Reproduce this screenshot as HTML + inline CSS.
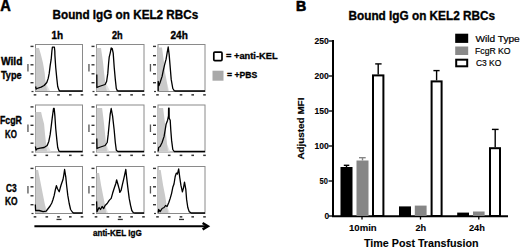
<!DOCTYPE html>
<html><head><meta charset="utf-8">
<style>
html,body{margin:0;padding:0;background:#fff;}
body{width:520px;height:247px;overflow:hidden;position:relative;}
svg{position:absolute;left:0;top:0;}
text{font-family:"Liberation Sans",sans-serif;}
.s{stroke:#000;stroke-width:0.35px;}
.b{font-weight:bold;}
</style></head><body>
<svg width="520" height="247" viewBox="0 0 520 247">
<!-- Panel labels -->
<text x="0.25" y="10.8" font-size="16.5" font-weight="bold" stroke="#000" stroke-width="0.5" textLength="10.54" lengthAdjust="spacingAndGlyphs">A</text>
<text x="296.0" y="10.8" font-size="15.0" font-weight="bold" stroke="#000" stroke-width="0.7" textLength="10.2" lengthAdjust="spacingAndGlyphs">B</text>
<text x="52.54" y="19.1" font-size="12.4" font-weight="bold" stroke="#000" stroke-width="0.35" textLength="145.72" lengthAdjust="spacingAndGlyphs">Bound IgG on KEL2 RBCs</text>
<text x="348.52" y="20.2" font-size="12.4" font-weight="bold" stroke="#000" stroke-width="0.35" textLength="146.54" lengthAdjust="spacingAndGlyphs">Bound IgG on KEL2 RBCs</text>
<text x="51.4" y="38.8" font-size="10.0" font-weight="bold" stroke="#000" stroke-width="0.35" textLength="11.59" lengthAdjust="spacingAndGlyphs">1h</text>
<text x="111.98" y="38.8" font-size="10.0" font-weight="bold" stroke="#000" stroke-width="0.35" textLength="10.7" lengthAdjust="spacingAndGlyphs">2h</text>
<text x="170.49" y="38.8" font-size="10.0" font-weight="bold" stroke="#000" stroke-width="0.35" textLength="17.27" lengthAdjust="spacingAndGlyphs">24h</text>
<text x="1.0" y="65.4" font-size="10.0" font-weight="bold" stroke="#000" stroke-width="0.35" textLength="21.42" lengthAdjust="spacingAndGlyphs">Wild</text>
<text x="0.95" y="79.0" font-size="10.0" font-weight="bold" stroke="#000" stroke-width="0.35" textLength="20.67" lengthAdjust="spacingAndGlyphs">Type</text>
<text x="0.0" y="124.2" font-size="10.0" font-weight="bold" stroke="#000" stroke-width="0.35" textLength="21.86" lengthAdjust="spacingAndGlyphs">FcgR</text>
<text x="5.0" y="138.0" font-size="10.0" font-weight="bold" stroke="#000" stroke-width="0.35" textLength="11.83" lengthAdjust="spacingAndGlyphs">KO</text>
<text x="6.0" y="191.5" font-size="10.0" font-weight="bold" stroke="#000" stroke-width="0.35" textLength="10.67" lengthAdjust="spacingAndGlyphs">C3</text>
<text x="5.0" y="205.0" font-size="10.0" font-weight="bold" stroke="#000" stroke-width="0.35" textLength="12.63" lengthAdjust="spacingAndGlyphs">KO</text>
<text x="93.01" y="235.6" font-size="8.3" font-weight="bold" stroke="#000" stroke-width="0.3" textLength="48.71" lengthAdjust="spacingAndGlyphs">anti-KEL IgG</text>
<text x="225.98" y="58.9" font-size="9.0" font-weight="bold" stroke="#000" stroke-width="0.3" textLength="51.63" lengthAdjust="spacingAndGlyphs">= +anti-KEL</text>
<text x="227.01" y="77.6" font-size="9.0" font-weight="bold" stroke="#000" stroke-width="0.3" textLength="30.13" lengthAdjust="spacingAndGlyphs">= +PBS</text>
<text x="349.0" y="230.8" font-size="9.3" font-weight="bold" stroke="#000" stroke-width="0.1" textLength="27.68" lengthAdjust="spacingAndGlyphs">10min</text>
<text x="415.46" y="230.8" font-size="9.3" font-weight="bold" stroke="#000" stroke-width="0.1" textLength="10.69" lengthAdjust="spacingAndGlyphs">2h</text>
<text x="468.93" y="230.8" font-size="9.3" font-weight="bold" stroke="#000" stroke-width="0.1" textLength="15.97" lengthAdjust="spacingAndGlyphs">24h</text>
<text x="364.0" y="246.5" font-size="11.0" font-weight="bold" stroke="#000" stroke-width="0.1" textLength="114.57" lengthAdjust="spacingAndGlyphs">Time Post Transfusion</text>
<text x="475.46" y="41.5" font-size="9.4" font-weight="normal" stroke="#000" stroke-width="0.2" textLength="44.29" lengthAdjust="spacingAndGlyphs">Wild Type</text>
<text x="475.05" y="53.5" font-size="9.1" font-weight="normal" stroke="#000" stroke-width="0.2" textLength="35.54" lengthAdjust="spacingAndGlyphs">FcgR KO</text>
<text x="476.0" y="66.2" font-size="9.1" font-weight="normal" stroke="#000" stroke-width="0.2" textLength="25.29" lengthAdjust="spacingAndGlyphs">C3 KO</text>
<text x="314.48" y="43.8" font-size="8.4" font-weight="bold" stroke="#000" stroke-width="0.1" textLength="14.23" lengthAdjust="spacingAndGlyphs">250</text>
<text x="314.48" y="78.9" font-size="8.4" font-weight="bold" stroke="#000" stroke-width="0.1" textLength="14.23" lengthAdjust="spacingAndGlyphs">200</text>
<text x="314.48" y="114.0" font-size="8.4" font-weight="bold" stroke="#000" stroke-width="0.1" textLength="14.23" lengthAdjust="spacingAndGlyphs">150</text>
<text x="314.48" y="149.0" font-size="8.4" font-weight="bold" stroke="#000" stroke-width="0.1" textLength="14.23" lengthAdjust="spacingAndGlyphs">100</text>
<text x="319.49" y="184.1" font-size="8.4" font-weight="bold" stroke="#000" stroke-width="0.1" textLength="8.35" lengthAdjust="spacingAndGlyphs">50</text>
<text x="324.5" y="219.3" font-size="8.4" font-weight="bold" stroke="#000" stroke-width="0.1" textLength="4.67" lengthAdjust="spacingAndGlyphs">0</text>

<!-- Histogram boxes -->
<g id="boxes" fill="none" stroke="#8a8a8a" stroke-width="1">
<rect x="35.5" y="44.5" width="47.0" height="47.0"/>
<rect x="35.5" y="105.0" width="47.0" height="47.0"/>
<rect x="35.5" y="166.5" width="47.0" height="47.0"/>
<rect x="96.5" y="44.5" width="47.5" height="47.0"/>
<rect x="96.5" y="105.0" width="47.5" height="47.0"/>
<rect x="96.5" y="166.5" width="47.5" height="47.0"/>
<rect x="158.0" y="44.5" width="47.0" height="47.0"/>
<rect x="158.0" y="105.0" width="47.0" height="47.0"/>
<rect x="158.0" y="166.5" width="47.0" height="47.0"/>
</g>

<!-- grey PBS fills -->
<g fill="#e4e4e4" stroke="none">
<path d="M35.5,91 L45.5,81.5 L47.5,86 L50,91 Z"/>
<path d="M96.5,91 L105.1,81.5 L107.5,86 L110,91 Z"/>
<path d="M158,91 L167.1,83.5 L169.2,91 Z"/>
<path d="M35.5,151.5 L46,143.5 L48.5,147 L51,151.5 Z"/>
<path d="M96.5,151.5 L106.1,143.5 L109.2,151.5 Z"/>
<path d="M158,151.5 L167.1,144.5 L170.2,151.5 Z"/>
<path d="M35.5,213 L45.1,205.5 L48,213 Z"/>
<path d="M96.5,213 L105.1,205.5 L108,213 Z"/>
<path d="M158,213 L166.7,205.5 L170,213 Z"/>
</g>
<g fill="#cacaca" stroke="none">
<path d="M35.5,91 L35.5,48 L39,48 L41,55 L43,63 L44.7,73 L45.5,81.5 L46.5,88 L47.5,91 Z"/>
<path d="M96.5,91 L96.5,48 L101,48 L102,55 L103.1,63 L104.1,73 L105.1,81.5 L106,88 L107,91 Z"/>
<path d="M158,91 L158,47.5 L162,47.5 L163,55 L164.1,63 L165.1,73 L166.1,78 L167.1,83.5 L168,91 Z"/>
<path d="M35.5,151.5 L35.5,112 L41.1,112 L42.5,118 L44.1,124 L45,134 L46,143.5 L47,151.5 Z"/>
<path d="M96.5,151.5 L96.5,108 L102.1,108 L103,115 L104.1,124.2 L105.1,134.4 L106.1,143.5 L107,151.5 Z"/>
<path d="M158,151.5 L158,108 L163.1,108 L164,115 L165.1,124.2 L166.1,134.4 L167.1,144.5 L168,151.5 Z"/>
<path d="M35.5,213 L35.5,170 L38.1,170 L41.1,185.2 L43.1,195.4 L45.1,205.5 L46.2,213 Z"/>
<path d="M96.5,213 L96.5,173 L99.1,173 L101.1,185.2 L103.1,195.4 L105.1,205.5 L106.1,213 Z"/>
<path d="M158,213 L158,170 L160.7,170 L163.1,185.2 L165.1,195.4 L166.7,205.5 L168.2,213 Z"/>
</g>

<!-- black anti-KEL histograms -->
<g fill="none" stroke="#000" stroke-width="1.3" stroke-linejoin="round">
<path d="M35.6,86.5 L36.2,89 L37,88.5 L41.1,87.1 L44.1,85.5 L46.8,82.5 L48.2,78.4 L49.2,73.4 L50.2,65.3 L51.2,59.2 L51.9,51 L52.4,47.2 L54.4,47.2 L54.8,51 L54.9,55.1 L55.7,67.3 L56.9,79.4 L57.7,86.5 L58.9,90 L59.8,91 L82.5,91"/>
<path d="M96.8,74.4 L96.9,87.5 L99.1,86.5 L102.1,85.5 L105.1,84.5 L106.6,81.5 L107.8,73.4 L108.6,63.2 L109.2,57.2 L110.2,53.1 L111.2,48 L112.2,48.5 L113.2,53.1 L114.2,67.3 L115.3,79.4 L116.3,88.5 L117.3,90.6 L118,91 L144,91"/>
<path d="M158.2,91 L158.2,81.5 L159,85.5 L160.1,82.5 L162.1,76.4 L163.1,71.3 L164.7,64.3 L166.1,59.2 L167.1,53.1 L168.2,47 L169.2,55.1 L170.2,67.3 L171.2,79.4 L172.8,88.5 L174.2,90.6 L175,91 L205,91"/>
<path d="M35.4,146.5 L36,150 L37,148.9 L40.1,148.1 L44.1,147.5 L47.2,145.5 L48.8,141.4 L50.2,134.4 L51.2,126.3 L52.2,118.2 L53.5,108.5 L54.2,108.5 L54.9,116.1 L55.7,128.3 L56.9,140.4 L57.7,147.5 L58.9,151 L59.8,151.5 L82.5,151.5"/>
<path d="M96.8,138.4 L97,148.5 L99.1,147.5 L102.1,146.5 L105.1,145.5 L107.2,142.5 L108.2,134.4 L109.2,124.2 L110.2,114.1 L111.2,108.5 L112.6,116.1 L114.2,130.3 L115.3,142.5 L116.3,150.2 L117.9,151.5 L144,151.5"/>
<path d="M158.2,151.5 L158.6,147.5 L160.1,146.5 L162.1,142.5 L164.1,136.4 L165.1,130.3 L166.1,124.2 L167.6,120.2 L168.5,116 L168.6,108.2 L169.1,108.2 L169.2,118.2 L170.2,120.2 L170.8,130.3 L171.6,140.4 L172.8,149.5 L174.2,151.5 L205,151.5"/>
<path d="M35.3,204.5 L35.6,210.5 L39.1,210.5 L43.1,211.6 L46.2,211.2 L48.2,208.5 L50.1,206 L51.8,203 L53,199.5 L54.2,195.4 L55.3,190 L56.4,185.7 L57.5,188.8 L59.2,191.8 L60.4,187.3 L61.5,183.7 L63,179.5 L63.8,175.1 L64.6,169.5 L65.8,177.1 L66.6,185.2 L67.8,195.4 L69.2,203.5 L70.6,209.5 L72.3,212 L73.5,213 L82.5,213"/>
<path d="M96.6,201.4 L97,211.6 L99.1,207.5 L100.5,209.5 L102.1,206.5 L103.7,208.5 L105.1,205.5 L107.2,203.5 L109.2,200.4 L111.2,198.4 L112.6,193.3 L114.2,188.3 L115.9,183.2 L116.6,179.8 L117.9,184.2 L119.3,189.3 L119.8,192.3 L121.1,190.3 L122.5,184.2 L123.7,179.2 L124.6,175.1 L125.8,169.5 L126.6,177.1 L127.8,187.3 L129.2,198.4 L130.6,205.5 L131.8,210.5 L133.3,212.6 L134.5,213 L144,213"/>
<path d="M158.2,212.6 L158.6,209.5 L160.1,211.6 L162.1,208.5 L164.1,207.5 L165.5,205.5 L167.1,206.5 L168.8,202.5 L170.2,198.4 L171.6,193.3 L172.8,187.3 L174,184 L175.2,176.5 L176.3,173.1 L177.4,174.1 L178.7,169 L179.7,177.1 L180.9,185.2 L182.4,191.8 L183.5,187.8 L184.5,182.2 L185.8,189.3 L186.6,199.4 L187.8,207.5 L189.2,211.6 L191.2,213 L205,213"/>
</g>

<!-- ticks -->
<g fill="#333">
<rect x="30.5" y="45.7" width="3" height="1.4"/>
<rect x="30.5" y="55.0" width="3" height="1.4"/>
<rect x="30.5" y="64.1" width="3" height="1.4"/>
<rect x="30.5" y="73.1" width="3" height="1.4"/>
<rect x="30.5" y="82.0" width="3" height="1.4"/>
<rect x="31.5" y="90.9" width="2" height="1.2"/>
<rect x="27.3" y="64.0" width="1.3" height="7.5" fill="#555"/>
<rect x="33.7" y="94.1" width="2.6" height="1.5"/>
<rect x="45.5" y="94.1" width="2.6" height="1.5"/>
<rect x="57.2" y="94.1" width="2.6" height="1.5"/>
<rect x="69.0" y="94.1" width="2.6" height="1.5"/>
<rect x="80.7" y="94.1" width="2.6" height="1.5"/>
<rect x="30.5" y="106.2" width="3" height="1.4"/>
<rect x="30.5" y="115.5" width="3" height="1.4"/>
<rect x="30.5" y="124.6" width="3" height="1.4"/>
<rect x="30.5" y="133.6" width="3" height="1.4"/>
<rect x="30.5" y="142.5" width="3" height="1.4"/>
<rect x="31.5" y="151.4" width="2" height="1.2"/>
<rect x="27.3" y="124.5" width="1.3" height="7.5" fill="#555"/>
<rect x="33.7" y="154.6" width="2.6" height="1.5"/>
<rect x="45.5" y="154.6" width="2.6" height="1.5"/>
<rect x="57.2" y="154.6" width="2.6" height="1.5"/>
<rect x="69.0" y="154.6" width="2.6" height="1.5"/>
<rect x="80.7" y="154.6" width="2.6" height="1.5"/>
<rect x="30.5" y="167.7" width="3" height="1.4"/>
<rect x="30.5" y="177.0" width="3" height="1.4"/>
<rect x="30.5" y="186.1" width="3" height="1.4"/>
<rect x="30.5" y="195.1" width="3" height="1.4"/>
<rect x="30.5" y="204.0" width="3" height="1.4"/>
<rect x="31.5" y="212.9" width="2" height="1.2"/>
<rect x="27.3" y="186.0" width="1.3" height="7.5" fill="#555"/>
<rect x="33.7" y="216.1" width="2.6" height="1.5"/>
<rect x="45.5" y="216.1" width="2.6" height="1.5"/>
<rect x="57.2" y="216.1" width="2.6" height="1.5"/>
<rect x="69.0" y="216.1" width="2.6" height="1.5"/>
<rect x="80.7" y="216.1" width="2.6" height="1.5"/>
<rect x="56.5" y="218.8" width="5" height="1.3"/>
<rect x="91.5" y="45.7" width="3" height="1.4"/>
<rect x="91.5" y="55.0" width="3" height="1.4"/>
<rect x="91.5" y="64.1" width="3" height="1.4"/>
<rect x="91.5" y="73.1" width="3" height="1.4"/>
<rect x="91.5" y="82.0" width="3" height="1.4"/>
<rect x="92.5" y="90.9" width="2" height="1.2"/>
<rect x="88.3" y="64.0" width="1.3" height="7.5" fill="#555"/>
<rect x="94.7" y="94.1" width="2.6" height="1.5"/>
<rect x="106.6" y="94.1" width="2.6" height="1.5"/>
<rect x="118.5" y="94.1" width="2.6" height="1.5"/>
<rect x="130.3" y="94.1" width="2.6" height="1.5"/>
<rect x="142.2" y="94.1" width="2.6" height="1.5"/>
<rect x="91.5" y="106.2" width="3" height="1.4"/>
<rect x="91.5" y="115.5" width="3" height="1.4"/>
<rect x="91.5" y="124.6" width="3" height="1.4"/>
<rect x="91.5" y="133.6" width="3" height="1.4"/>
<rect x="91.5" y="142.5" width="3" height="1.4"/>
<rect x="92.5" y="151.4" width="2" height="1.2"/>
<rect x="88.3" y="124.5" width="1.3" height="7.5" fill="#555"/>
<rect x="94.7" y="154.6" width="2.6" height="1.5"/>
<rect x="106.6" y="154.6" width="2.6" height="1.5"/>
<rect x="118.5" y="154.6" width="2.6" height="1.5"/>
<rect x="130.3" y="154.6" width="2.6" height="1.5"/>
<rect x="142.2" y="154.6" width="2.6" height="1.5"/>
<rect x="91.5" y="167.7" width="3" height="1.4"/>
<rect x="91.5" y="177.0" width="3" height="1.4"/>
<rect x="91.5" y="186.1" width="3" height="1.4"/>
<rect x="91.5" y="195.1" width="3" height="1.4"/>
<rect x="91.5" y="204.0" width="3" height="1.4"/>
<rect x="92.5" y="212.9" width="2" height="1.2"/>
<rect x="88.3" y="186.0" width="1.3" height="7.5" fill="#555"/>
<rect x="94.7" y="216.1" width="2.6" height="1.5"/>
<rect x="106.6" y="216.1" width="2.6" height="1.5"/>
<rect x="118.5" y="216.1" width="2.6" height="1.5"/>
<rect x="130.3" y="216.1" width="2.6" height="1.5"/>
<rect x="142.2" y="216.1" width="2.6" height="1.5"/>
<rect x="117.8" y="218.8" width="5" height="1.3"/>
<rect x="153.0" y="45.7" width="3" height="1.4"/>
<rect x="153.0" y="55.0" width="3" height="1.4"/>
<rect x="153.0" y="64.1" width="3" height="1.4"/>
<rect x="153.0" y="73.1" width="3" height="1.4"/>
<rect x="153.0" y="82.0" width="3" height="1.4"/>
<rect x="154.0" y="90.9" width="2" height="1.2"/>
<rect x="149.8" y="64.0" width="1.3" height="7.5" fill="#555"/>
<rect x="156.2" y="94.1" width="2.6" height="1.5"/>
<rect x="167.9" y="94.1" width="2.6" height="1.5"/>
<rect x="179.7" y="94.1" width="2.6" height="1.5"/>
<rect x="191.4" y="94.1" width="2.6" height="1.5"/>
<rect x="203.2" y="94.1" width="2.6" height="1.5"/>
<rect x="153.0" y="106.2" width="3" height="1.4"/>
<rect x="153.0" y="115.5" width="3" height="1.4"/>
<rect x="153.0" y="124.6" width="3" height="1.4"/>
<rect x="153.0" y="133.6" width="3" height="1.4"/>
<rect x="153.0" y="142.5" width="3" height="1.4"/>
<rect x="154.0" y="151.4" width="2" height="1.2"/>
<rect x="149.8" y="124.5" width="1.3" height="7.5" fill="#555"/>
<rect x="156.2" y="154.6" width="2.6" height="1.5"/>
<rect x="167.9" y="154.6" width="2.6" height="1.5"/>
<rect x="179.7" y="154.6" width="2.6" height="1.5"/>
<rect x="191.4" y="154.6" width="2.6" height="1.5"/>
<rect x="203.2" y="154.6" width="2.6" height="1.5"/>
<rect x="153.0" y="167.7" width="3" height="1.4"/>
<rect x="153.0" y="177.0" width="3" height="1.4"/>
<rect x="153.0" y="186.1" width="3" height="1.4"/>
<rect x="153.0" y="195.1" width="3" height="1.4"/>
<rect x="153.0" y="204.0" width="3" height="1.4"/>
<rect x="154.0" y="212.9" width="2" height="1.2"/>
<rect x="149.8" y="186.0" width="1.3" height="7.5" fill="#555"/>
<rect x="156.2" y="216.1" width="2.6" height="1.5"/>
<rect x="167.9" y="216.1" width="2.6" height="1.5"/>
<rect x="179.7" y="216.1" width="2.6" height="1.5"/>
<rect x="191.4" y="216.1" width="2.6" height="1.5"/>
<rect x="203.2" y="216.1" width="2.6" height="1.5"/>
<rect x="179.0" y="218.8" width="5" height="1.3"/>
</g>
<!-- arrow -->
<line x1="34.4" y1="226.2" x2="207.5" y2="226.2" stroke="#000" stroke-width="2"/>
<polyline points="202.6,223 207.9,226.2 202.6,229.4" fill="none" stroke="#000" stroke-width="2.4" stroke-linejoin="miter"/>

<!-- legend A -->
<rect x="213.8" y="52.2" width="8.2" height="8.4" rx="1" fill="#fff" stroke="#000" stroke-width="1.7"/>
<rect x="212.5" y="70.7" width="11" height="10" fill="#a9a9a9"/>

<!-- Panel B chart -->
<g stroke="#000" stroke-width="2" fill="none">
<line x1="333" y1="40" x2="333" y2="217"/>
<line x1="332" y1="216.3" x2="508" y2="216.3"/>
</g>
<g stroke="#000" stroke-width="1.3">
<line x1="328.5" y1="41" x2="333" y2="41"/>
<line x1="328.5" y1="76" x2="333" y2="76"/>
<line x1="328.5" y1="111" x2="333" y2="111"/>
<line x1="328.5" y1="146" x2="333" y2="146"/>
<line x1="328.5" y1="181" x2="333" y2="181"/>
<line x1="328.5" y1="216" x2="333" y2="216"/>
<line x1="362" y1="216" x2="362" y2="219.5"/>
<line x1="420.5" y1="216" x2="420.5" y2="219.5"/>
<line x1="478.8" y1="216" x2="478.8" y2="219.5"/>
</g>

<text font-weight="bold" font-size="8.2" stroke="#000" stroke-width="0.15" transform="translate(304.2,159.6) rotate(-90)" textLength="62" lengthAdjust="spacingAndGlyphs">Adjusted MFI</text>


<!-- bars -->
<g>
<rect x="340.5" y="167" width="12" height="49" fill="#000"/>
<rect x="356.5" y="160.5" width="12" height="55.5" fill="#868686"/>
<rect x="373" y="75.4" width="10.4" height="140.6" fill="#fff" stroke="#000" stroke-width="2"/>
<rect x="399" y="206.4" width="12" height="9.6" fill="#000"/>
<rect x="414.8" y="205.6" width="11.8" height="10.4" fill="#868686"/>
<rect x="431.6" y="81.4" width="10" height="134.6" fill="#fff" stroke="#000" stroke-width="2"/>
<rect x="457.2" y="212.6" width="11.8" height="3.4" fill="#000"/>
<rect x="473" y="211.5" width="11.6" height="4.5" fill="#868686"/>
<rect x="490" y="148.2" width="10" height="67.8" fill="#fff" stroke="#000" stroke-width="2"/>
</g>
<g stroke="#000" stroke-width="1.4">
<line x1="346.5" y1="167" x2="346.5" y2="165.3"/><line x1="343.8" y1="165.3" x2="349.3" y2="165.3"/>
<line x1="362.5" y1="160.5" x2="362.5" y2="157.7" stroke="#868686"/><line x1="359" y1="157.7" x2="365.7" y2="157.7" stroke="#868686"/>
<line x1="378.2" y1="74.4" x2="378.2" y2="63.9"/><line x1="375.2" y1="63.9" x2="381.6" y2="63.9"/>
<line x1="436.6" y1="80.4" x2="436.6" y2="70.6"/><line x1="433.4" y1="70.6" x2="439.6" y2="70.6"/>
<line x1="495.2" y1="147.2" x2="495.2" y2="129.4"/><line x1="491.9" y1="129.4" x2="498.6" y2="129.4"/>
</g>

<!-- legend B -->
<rect x="455.2" y="33.7" width="13" height="9.2" fill="#000"/>
<rect x="455.2" y="46.5" width="13" height="8.5" fill="#8a8a8a"/>
<rect x="456.2" y="59.7" width="11" height="6.6" fill="#fff" stroke="#000" stroke-width="2"/>

</svg>
</body></html>
